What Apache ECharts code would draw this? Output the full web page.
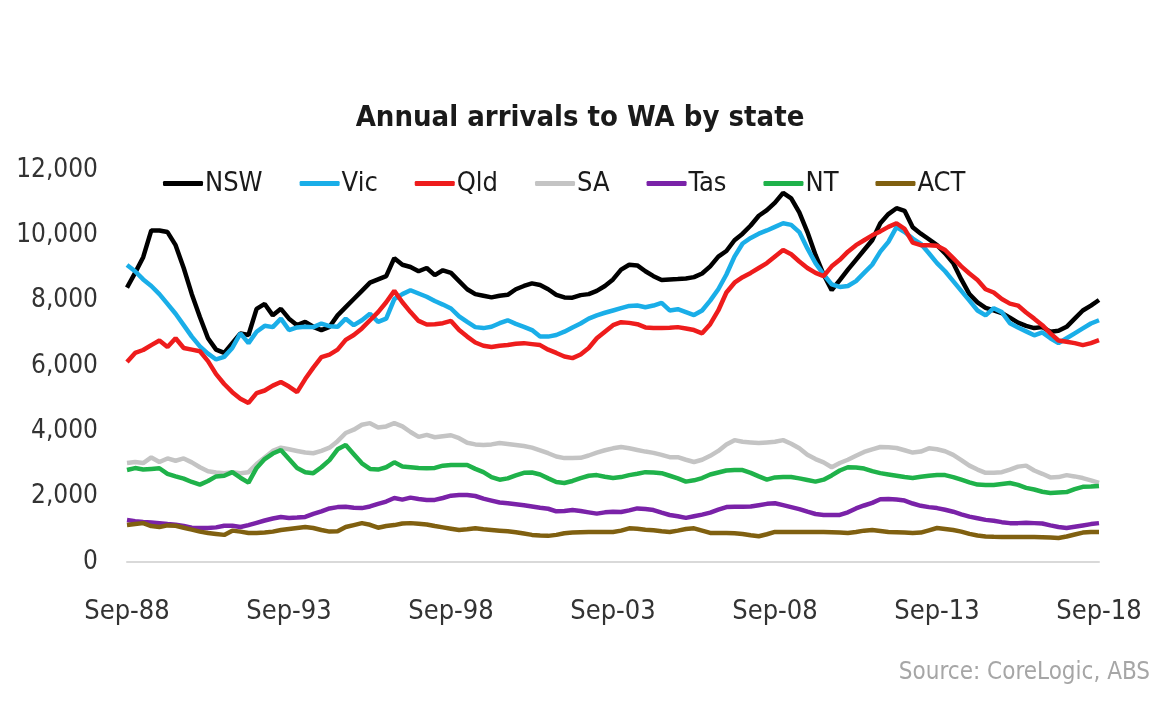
<!DOCTYPE html>
<html>
<head>
<meta charset="utf-8">
<script src="https://cdn.jsdelivr.net/npm/echarts@6/dist/echarts.min.js"></script>
<style>
html,body{margin:0;padding:0;background:#fff;}
#c{width:1160px;height:704px;}
</style>
</head>
<body>
<div id="c"></div>
<script>
// Quarterly labels Sep-88 .. Sep-18
var months = ["Sep", "Dec", "Mar", "Jun"];
var categories = [];
(function () {
  var y = 1988;
  for (var i = 0; i <= 120; i++) {
    var m = months[i % 4];
    if (m === "Mar") y++;
    categories.push(m + "-" + String(y).slice(2));
  }
})();

var yTicks = [0, 2000, 4000, 6000, 8000, 10000, 12000];

var NSW = [8400,8850,9330,10150,10150,10100,9700,9000,8200,7500,6850,6500,6400,6700,7000,6950,7750,7900,7550,7750,7450,7250,7350,7200,7100,7200,7550,7800,8050,8300,8550,8650,8750,9300,9100,9030,8900,9000,8780,8930,8850,8600,8350,8200,8150,8100,8150,8180,8350,8450,8530,8480,8350,8180,8100,8090,8170,8200,8300,8450,8650,8950,9100,9080,8900,8750,8630,8650,8660,8680,8720,8830,9050,9350,9520,9850,10050,10300,10600,10770,11000,11300,11130,10700,10100,9400,8800,8320,8630,8950,9250,9550,9850,10370,10650,10830,10750,10250,10050,9880,9700,9450,9150,8650,8200,7950,7780,7700,7620,7480,7330,7230,7160,7190,7050,7080,7200,7450,7700,7850,8020];
var Vic = [9090,8900,8650,8450,8200,7900,7600,7250,6900,6600,6380,6200,6280,6550,7000,6700,7050,7230,7190,7450,7100,7180,7200,7190,7300,7220,7200,7450,7250,7400,7600,7350,7450,8050,8200,8320,8220,8120,7990,7880,7760,7520,7350,7190,7160,7200,7310,7400,7290,7200,7100,6900,6900,6950,7050,7180,7300,7450,7550,7630,7700,7770,7840,7850,7800,7850,7930,7700,7740,7650,7560,7700,8000,8350,8800,9350,9750,9920,10050,10150,10260,10370,10320,10100,9600,9150,8800,8500,8420,8450,8600,8850,9100,9500,9800,10250,10100,9900,9740,9450,9150,8900,8600,8300,8000,7700,7550,7770,7650,7310,7180,7060,6940,7030,6850,6700,6850,7000,7150,7300,7400];
var Qld = [6120,6400,6490,6640,6780,6580,6850,6550,6500,6450,6150,5750,5450,5200,5000,4870,5170,5250,5400,5510,5370,5200,5600,5950,6270,6350,6500,6800,6950,7150,7400,7650,7950,8300,7950,7650,7380,7270,7280,7310,7380,7100,6900,6720,6620,6580,6620,6640,6680,6700,6670,6640,6500,6400,6290,6240,6350,6550,6850,7050,7250,7340,7320,7280,7180,7160,7160,7170,7190,7150,7100,7000,7280,7700,8250,8550,8720,8850,9000,9150,9350,9550,9420,9200,9000,8850,8750,9050,9250,9500,9700,9850,10000,10120,10260,10370,10200,9780,9700,9700,9680,9550,9300,9050,8830,8630,8350,8250,8050,7910,7850,7640,7450,7250,7000,6780,6740,6700,6640,6700,6790];
var SA = [3030,3060,3030,3200,3060,3170,3100,3170,3050,2900,2780,2740,2720,2750,2720,2750,3000,3200,3400,3500,3450,3400,3350,3330,3400,3500,3700,3950,4050,4200,4250,4120,4150,4250,4150,3980,3830,3890,3820,3850,3880,3790,3650,3600,3580,3600,3640,3610,3580,3550,3500,3420,3330,3230,3180,3180,3190,3260,3350,3420,3480,3520,3480,3430,3380,3340,3280,3210,3210,3130,3060,3130,3250,3400,3600,3730,3680,3660,3640,3660,3680,3730,3620,3480,3280,3150,3050,2900,3030,3130,3250,3370,3450,3520,3510,3490,3420,3350,3380,3480,3450,3390,3280,3120,2950,2830,2730,2730,2750,2830,2920,2950,2800,2700,2590,2600,2660,2620,2570,2500,2420];
var Tas = [1285,1250,1225,1210,1190,1160,1140,1100,1050,1040,1040,1060,1110,1110,1070,1130,1200,1270,1330,1380,1350,1360,1380,1470,1550,1640,1680,1690,1660,1650,1700,1780,1850,1960,1910,1970,1930,1900,1900,1960,2030,2050,2050,2020,1940,1880,1820,1800,1770,1740,1700,1660,1630,1550,1560,1590,1560,1520,1480,1520,1540,1530,1580,1640,1620,1590,1510,1440,1400,1350,1400,1450,1510,1600,1680,1690,1690,1700,1740,1780,1800,1740,1680,1620,1540,1470,1440,1440,1440,1520,1640,1730,1810,1920,1930,1910,1880,1790,1720,1680,1650,1600,1540,1460,1390,1340,1290,1260,1220,1190,1190,1200,1190,1180,1120,1070,1040,1080,1120,1160,1190];
var NT = [2815,2875,2830,2850,2870,2700,2620,2550,2450,2370,2480,2620,2640,2750,2580,2430,2880,3150,3320,3430,3150,2880,2750,2720,2900,3120,3450,3580,3300,3020,2850,2830,2900,3050,2920,2900,2880,2870,2880,2950,2970,2970,2970,2850,2750,2600,2520,2560,2650,2730,2740,2680,2560,2450,2420,2480,2570,2640,2660,2610,2570,2600,2660,2700,2750,2740,2720,2640,2560,2460,2500,2570,2680,2740,2800,2815,2815,2730,2620,2520,2590,2600,2600,2560,2510,2460,2520,2650,2800,2900,2890,2860,2780,2720,2680,2640,2600,2570,2610,2640,2660,2660,2600,2520,2440,2370,2355,2360,2390,2420,2360,2270,2220,2150,2110,2130,2140,2230,2300,2310,2330];
var ACT = [1130,1160,1190,1100,1070,1120,1110,1050,990,930,890,860,830,960,930,890,890,900,930,980,1010,1040,1070,1040,980,930,940,1070,1130,1190,1140,1050,1100,1130,1180,1190,1170,1150,1100,1060,1020,980,1000,1030,1000,980,960,940,910,870,830,810,800,830,880,900,910,920,920,920,920,960,1030,1020,990,970,940,920,960,1010,1030,960,890,890,890,880,860,820,790,850,920,920,920,920,920,920,920,910,900,890,920,960,980,950,920,910,900,890,900,970,1040,1010,980,930,860,810,780,770,765,765,765,765,765,760,750,735,780,840,900,920,920];

var seriesNames = ["NSW", "Vic", "Qld", "SA", "Tas", "NT", "ACT"];
var seriesData = [NSW, Vic, Qld, SA, Tas, NT, ACT];
var colors = ["#000000", "#1aaee8", "#ee1c1c", "#c4c4c4", "#7a22a8", "#1fb24a", "#806010"];

var FONT = "'Liberation Sans Narrow', 'DejaVu Sans Condensed', sans-serif";

var chart = echarts.init(document.getElementById('c'), null, {renderer: 'canvas'});
chart.setOption({
  animation: false,
  backgroundColor: '#ffffff',
  color: colors,
  title: {
    text: 'Annual arrivals to WA by state',
    left: 'center',
    top: 99,
    textStyle: {fontFamily: FONT, fontSize: 29, fontWeight: 'bold', color: '#1a1a1a'}
  },
  legend: {
    data: seriesNames,
    left: 158,
    top: 165,
    icon: 'roundRect',
    itemWidth: 40,
    itemHeight: 5,
    itemGap: 37,
    textStyle: {fontFamily: FONT, fontSize: 27, color: '#1a1a1a', padding: [0, 0, 0, -3]}
  },
  grid: {left: 127, right: 61, top: 170, bottom: 142, containLabel: false},
  xAxis: {
    type: 'category',
    data: categories,
    boundaryGap: false,
    axisLine: {lineStyle: {color: '#d9d9d9', width: 2}},
    axisTick: {show: false},
    axisLabel: {
      interval: 19,
      margin: 36,
      fontFamily: FONT, fontSize: 27, color: '#333333'
    },
    splitLine: {show: false}
  },
  yAxis: {
    type: 'value',
    min: yTicks[0],
    max: yTicks[yTicks.length - 1],
    interval: 2000,
    axisLine: {show: false},
    axisTick: {show: false},
    splitLine: {show: false},
    axisLabel: {
      margin: 29,
      fontFamily: FONT, fontSize: 26, color: '#333333',
      formatter: function (v) { return v.toLocaleString('en-US'); }
    }
  },
  graphic: [{
    type: 'text',
    right: 10,
    top: 661,
    style: {text: 'Source: CoreLogic, ABS', fill: '#a6a6a6', font: "24px 'Liberation Sans Narrow', 'DejaVu Sans Condensed', sans-serif"}
  }],
  series: seriesNames.map(function (n, k) {
    return {
      name: n,
      type: 'line',
      data: seriesData[k],
      showSymbol: false,
      symbol: 'none',
      lineStyle: {width: 4.5, color: colors[k]},
      itemStyle: {color: colors[k]}
    };
  })
});
</script>
</body>
</html>
